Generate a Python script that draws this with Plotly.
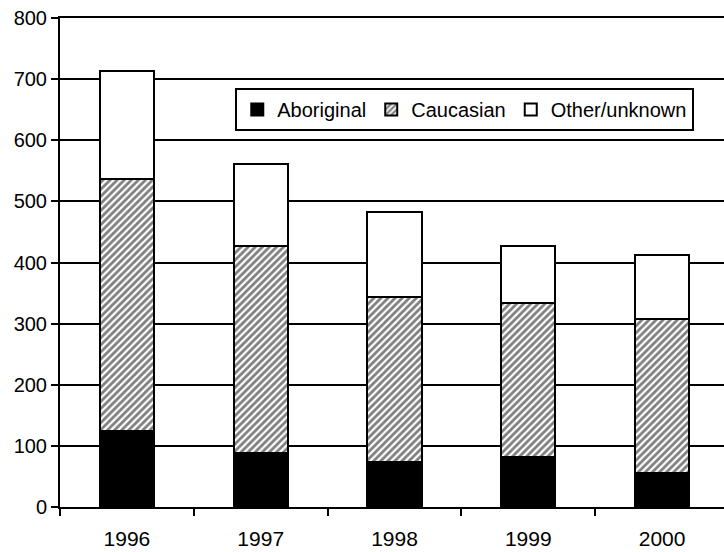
import plotly.graph_objects as go

years = ["1996", "1997", "1998", "1999", "2000"]
aboriginal = [124, 89, 73, 81, 56]
caucasian = [413, 338, 271, 252, 252]
other = [177, 134, 138, 94, 105]
y_ticks = [0, 100, 200, 300, 400, 500, 600, 700, 800]

fig = go.Figure()
fig.add_trace(go.Bar(x=years, y=aboriginal, name="Aboriginal",
                     marker=dict(color="black", line=dict(color="black", width=2))))
fig.add_trace(go.Bar(x=years, y=caucasian, name="Caucasian",
                     marker=dict(color="white", line=dict(color="black", width=2),
                                 pattern=dict(shape="/", fgcolor="black", bgcolor="white",
                                              size=5, solidity=0.55, fillmode="overlay"))))
fig.add_trace(go.Bar(x=years, y=other, name="Other/unknown",
                     marker=dict(color="white", line=dict(color="black", width=2))))

fig.update_layout(
    barmode="stack",
    bargap=0.596,
    width=730, height=552,
    margin=dict(l=60, r=1, t=18, b=45),
    plot_bgcolor="white", paper_bgcolor="white",
    font=dict(family="Liberation Sans", size=20, color="black"),
    legend=dict(orientation="h", x=0.262, y=0.857, xanchor="left", yanchor="top",
                bordercolor="black", borderwidth=2, bgcolor="white",
                font=dict(family="Liberation Sans", size=20), traceorder="normal",
                itemwidth=30, tracegroupgap=0),
    showlegend=True,
)
fig.update_yaxes(range=[0, 800], tickvals=y_ticks,
                 showgrid=True, gridcolor="black", gridwidth=2,
                 showline=True, linecolor="black", linewidth=2, ticks="outside",
                 ticklen=7, tickwidth=2, tickcolor="black", zeroline=False,
                 automargin=False, tickfont=dict(size=20))
fig.update_xaxes(showline=True, linecolor="black", linewidth=2, mirror=True,
                 ticks="outside", tickson="boundaries", ticklen=7, tickwidth=2,
                 tickcolor="black", showgrid=False, automargin=False,
                 tickfont=dict(size=21), ticklabelstandoff=12)

fig.write_html("out.html", config={"displayModeBar": False},
               post_script="document.body.style.margin='0';document.body.style.overflow='hidden';")
